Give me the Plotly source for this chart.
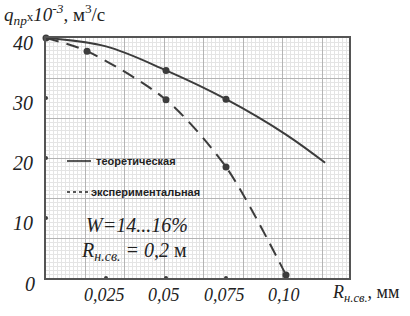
import plotly.graph_objects as go

# ---- data ----
theor_x = [0.0, 0.025, 0.05, 0.075, 0.1, 0.1163]
theor_y = [40.0, 38.6, 34.6, 29.8, 23.9, 19.2]
theor_mx = [0.0, 0.05, 0.075]
theor_my = [40.0, 34.6, 29.8]

exp_x = [0.0, 0.0171, 0.05, 0.075, 0.1]
exp_y = [40.0, 37.8, 29.7, 18.5, 0.5]

x_ticks = [0.025, 0.05, 0.075, 0.10]
x_tick_labels = ["0,025", "0,05", "0,075", "0,10"]
y_ticks = [40, 30, 20, 10]
y_tick_labels = ["40", "30", "20", "10"]

W, H = 410, 316
L, R, T, B = 46, 349, 38, 278  # plot area in px


def px(xp):
    return (xp - L) / (R - L)


def py(yp):
    return (B - yp) / (B - T)


LINE = "#3c3c3c"
SERIF = "Liberation Serif"
SANS = "Liberation Sans"

fig = go.Figure()
fig.add_trace(go.Scatter(x=theor_x, y=theor_y, mode="lines",
                         line=dict(color=LINE, width=2, shape="spline", smoothing=1.0),
                         showlegend=False, hoverinfo="skip"))
fig.add_trace(go.Scatter(x=theor_mx, y=theor_my, mode="markers",
                         marker=dict(color=LINE, size=7), cliponaxis=False,
                         showlegend=False))
fig.add_trace(go.Scatter(x=exp_x, y=exp_y, mode="lines",
                         line=dict(color=LINE, width=2, shape="spline", smoothing=0.8,
                                   dash="13px,8px"),
                         showlegend=False, hoverinfo="skip"))
fig.add_trace(go.Scatter(x=exp_x[1:], y=exp_y[1:], mode="markers",
                         marker=dict(color=LINE, size=7), cliponaxis=False,
                         showlegend=False))
# small tick dots on axes
fig.add_trace(go.Scatter(x=x_ticks, y=[0] * len(x_ticks), mode="markers",
                         marker=dict(color=LINE, size=4), cliponaxis=False,
                         showlegend=False))
fig.add_trace(go.Scatter(x=[0] * 3, y=y_ticks[1:], mode="markers",
                         marker=dict(color=LINE, size=4), cliponaxis=False,
                         showlegend=False))

# white legend box covering grid
fig.add_shape(type="rect", xref="paper", yref="paper",
              x0=px(55), x1=px(208), y0=py(265), y1=py(149),
              fillcolor="white", line=dict(width=0), layer="between")
# legend samples
fig.add_shape(type="line", xref="paper", yref="paper",
              x0=px(67), x1=px(91), y0=py(161), y1=py(161),
              line=dict(color="#222", width=1.5))
fig.add_shape(type="line", xref="paper", yref="paper",
              x0=px(67), x1=px(89), y0=py(192), y1=py(192),
              line=dict(color="#222", width=1.5, dash="dot"))

ann = []
ann.append(dict(xref="paper", yref="paper", x=px(94), y=py(161), text="<b>теоретическая</b>",
                xanchor="left", yanchor="middle", showarrow=False,
                font=dict(family=SANS, size=11, color="#222")))
ann.append(dict(xref="paper", yref="paper", x=px(89), y=py(192), text="<b>экспериментальная</b>",
                xanchor="left", yanchor="middle", showarrow=False,
                font=dict(family=SANS, size=11, color="#222")))
ann.append(dict(xref="paper", yref="paper", x=px(137), y=py(225), text="<i>W=14...16%</i>",
                xanchor="center", yanchor="middle", showarrow=False,
                font=dict(family=SERIF, size=20, color="#222")))
ann.append(dict(xref="paper", yref="paper", x=px(134), y=py(251),
                text="<i>R<sub>н.св.</sub> = 0,2</i> м",
                xanchor="center", yanchor="middle", showarrow=False,
                font=dict(family=SERIF, size=20, color="#222")))
# title
ann.append(dict(xref="paper", yref="paper", x=px(2), y=py(15),
                text="<i>q<sub>пр</sub></i><span style='font-size:13px'>x</span><i>10<sup>-3</sup></i>, м<sup>3</sup>/с",
                xanchor="left", yanchor="middle", showarrow=False,
                font=dict(family=SERIF, size=19, color="#222")))
# x axis title
ann.append(dict(xref="paper", yref="paper", x=px(330), y=py(293),
                text="<i>R<sub>н.св.</sub></i>, мм",
                xanchor="left", yanchor="middle", showarrow=False,
                font=dict(family=SERIF, size=18, color="#222")))
# tick labels
for v, t in zip(x_ticks, x_tick_labels):
    ann.append(dict(xref="x", yref="paper", x=v, y=py(295), text="<i>" + t + "</i>",
                    xanchor="center", yanchor="middle", showarrow=False, xshift=-2,
                    font=dict(family=SERIF, size=18, color="#222")))
for v, t in zip(y_ticks, y_tick_labels):
    ann.append(dict(xref="paper", yref="y", x=px(35), y=v, text="<i>" + t + "</i>",
                    xanchor="right", yanchor="middle", showarrow=False, yshift=-5,
                    font=dict(family=SERIF, size=20, color="#222")))
ann.append(dict(xref="paper", yref="y", x=px(37), y=0, text="<i>0</i>",
                xanchor="right", yanchor="middle", showarrow=False, yshift=-6,
                font=dict(family=SERIF, size=20, color="#222")))

fig.update_layout(
    width=W, height=H,
    margin=dict(l=L, r=W - R, t=T, b=H - B),
    paper_bgcolor="white", plot_bgcolor="white",
    annotations=ann,
    xaxis=dict(range=[0, (R - L) / 2400], showgrid=True, tick0=0, dtick=0.01645,
               gridcolor="#b4b4b4", gridwidth=1,
               minor=dict(dtick=0.001645, showgrid=True, gridcolor="#e4e4e4", gridwidth=1),
               showticklabels=False, ticks="", zeroline=False,
               showline=True, linecolor="#555", linewidth=2, mirror=True, fixedrange=True),
    yaxis=dict(range=[0, 40], showgrid=True, tick0=0, dtick=20 / 3,
               gridcolor="#b4b4b4", gridwidth=1,
               minor=dict(dtick=2 / 3, showgrid=True, gridcolor="#e4e4e4", gridwidth=1),
               showticklabels=False, ticks="", zeroline=False,
               showline=True, linecolor="#555", linewidth=2, mirror=True, fixedrange=True),
)

fig.write_html("out.html", config={"displayModeBar": False},
               post_script="document.body.style.margin='0';")
